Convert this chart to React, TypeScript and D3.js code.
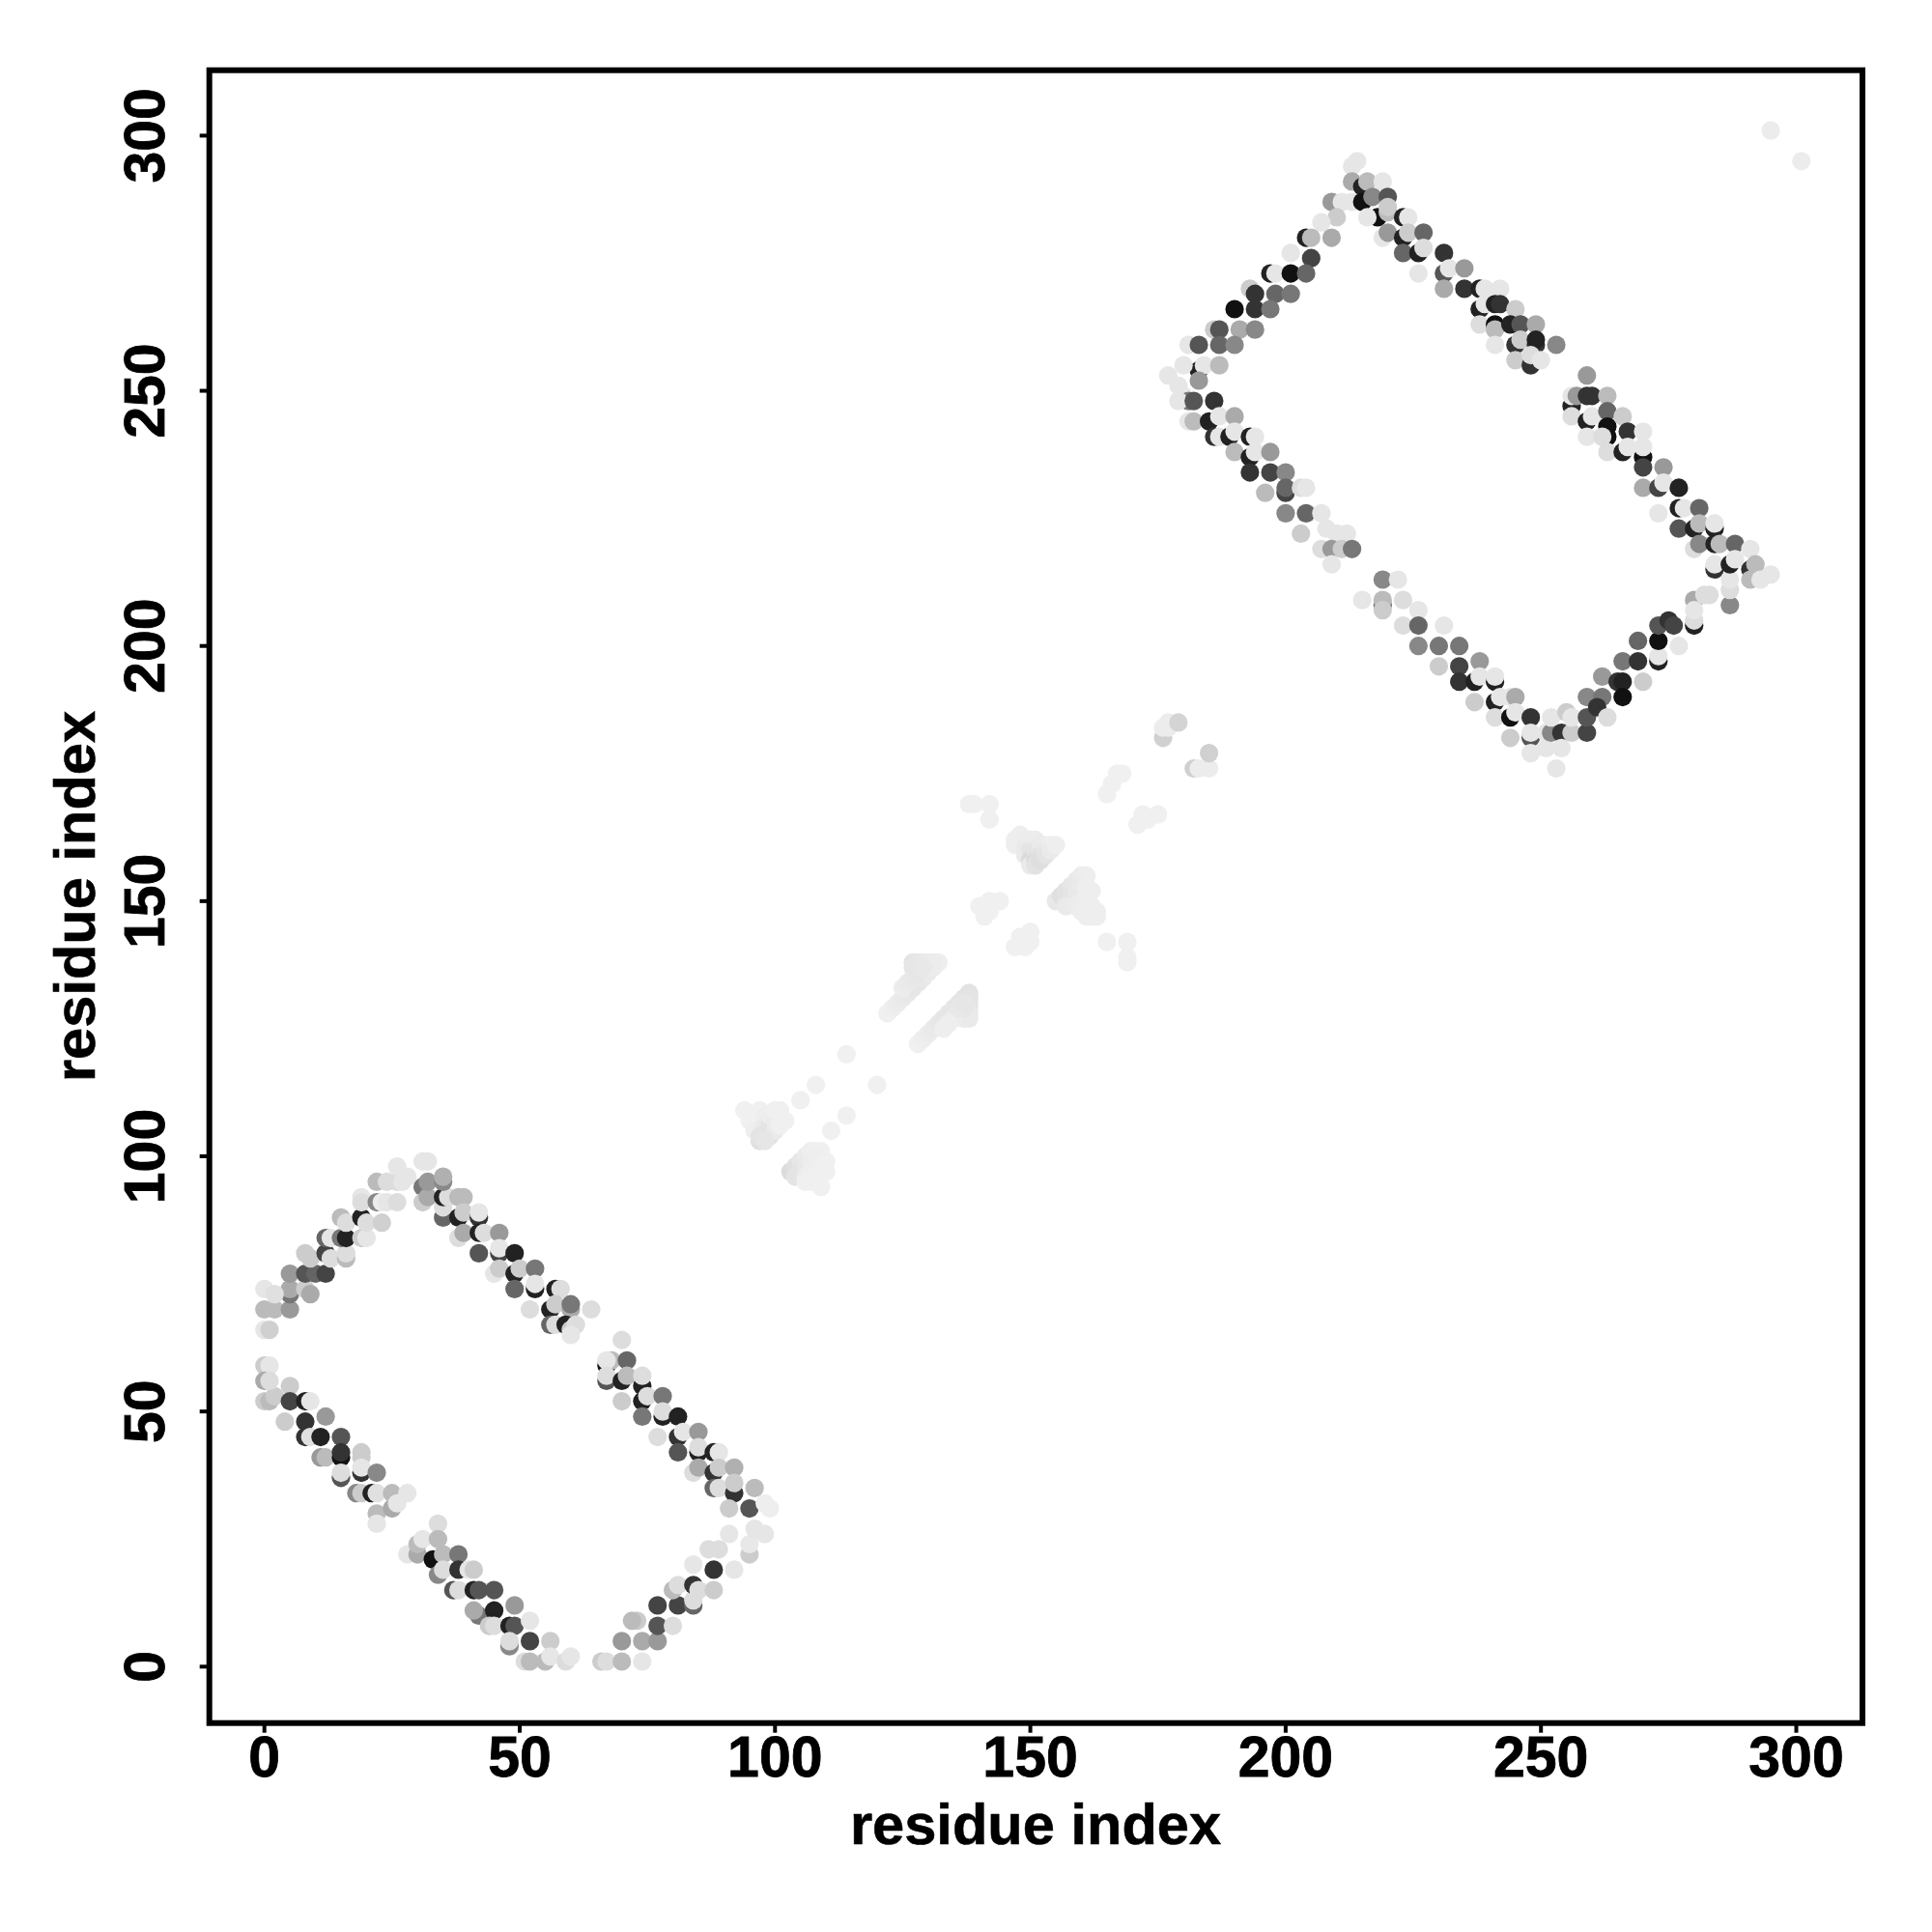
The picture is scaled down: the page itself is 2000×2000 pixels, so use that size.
import React from "react";
import * as d3 from "d3";

type Pt = [number, number, number];

const xTicks = [0, 50, 100, 150, 200, 250, 300];
const yTicks = [0, 50, 100, 150, 200, 250, 300];
const xTitle = "residue index";
const yTitle = "residue index";

// [residue i, residue j, grey level]
const lowerRising: Pt[] = [
  [0,66,230],[1,66,208],[0,70,187],[2,70,187],[5,70,153],[5,73,119],[5,74,170],[0,74,230],[2,73,224],[8,74,204],[9,73,170],
  [5,77,153],[8,77,85],[10,77,100],[12,77,68],[8,81,204],[9,80,204],[12,81,68],[13,80,221],[16,80,187],[16,81,221],
  [12,84,102],[13,84,230],[15,84,119],[16,84,34],[19,84,204],[20,84,230],[15,88,187],[16,87,221],[19,88,34],[20,87,221],[23,87,208],
  [19,92,230],[19,91,221],[22,91,136],[23,91,236],[24,91,230],[26,91,221],[22,95,187],[24,95,221],[26,95,221],[26,98,230],[27,95,230],[28,96,230],
];
const lowerUpperFalling: Pt[] = [
  [31,94,119],[31,91,204],[32,92,170],[32,95,153],[32,99,230],[31,99,230],[35,88,102],[35,90,221],[35,92,34],[36,92,221],[35,95,136],[35,96,176],[38,92,187],[39,92,187],
  [38,88,34],[39,89,204],[42,88,51],[42,89,230],[38,84,221],[39,85,170],[42,85,34],[43,85,221],[46,85,153],
  [42,81,85],[46,81,68],[46,82,230],[49,81,34],[45,77,230],[46,78,204],[49,77,34],[50,78,204],[53,78,119],[49,74,102],[53,74,34],[53,75,230],
  [57,74,34],[58,74,221],[52,70,221],[56,70,34],[57,71,204],[60,70,170],[60,71,119],[64,70,221],[56,67,102],[57,67,221],[59,67,34],[60,66,204],[61,67,221],[60,65,230],
];
const lowerRightFalling: Pt[] = [
  [70,64,221],[67,59,17],[68,60,187],[67,60,230],[71,60,102],[67,56,85],[67,57,221],[70,56,34],[71,57,187],[74,55,34],[74,57,221],
  [70,52,204],[74,52,34],[75,53,221],[78,53,119],[74,49,119],[78,49,34],[78,50,221],[81,49,34],[77,45,221],[81,45,51],[82,46,230],[85,46,153],
  [81,42,85],[85,42,34],[85,43,221],[88,42,34],[89,42,230],[84,38,221],[85,39,170],[88,38,51],[89,39,204],[92,39,176],
  [88,35,102],[89,35,221],[92,34,51],[92,36,204],[96,35,187],[91,31,204],[95,31,85],[98,32,238],[99,31,238],
];
const lowerRightRising: Pt[] = [
  [66,1,204],[67,1,221],[70,1,187],[74,1,230],[70,5,153],[74,5,170],[77,5,153],[73,9,204],[72,9,187],[77,8,85],[80,8,221],
  [77,12,68],[81,12,68],[84,12,102],[84,13,221],[80,15,187],[81,16,221],[84,16,51],[85,15,221],[88,15,204],[84,20,230],[88,19,51],[92,19,230],
  [87,23,221],[89,23,221],[95,22,204],[95,24,232],[91,26,230],[98,26,230],[96,27,230],
];
const lowerLeftFalling: Pt[] = [
  [0,52,204],[1,52,187],[2,53,204],[0,59,204],[1,59,230],[0,56,170],[1,56,221],[5,55,204],[5,52,68],[8,52,34],[9,52,230],
  [4,48,204],[8,48,51],[12,49,153],[8,45,51],[9,45,224],[11,45,34],[15,45,85],[11,41,153],[12,41,187],[15,41,17],[15,42,51],[19,41,204],[19,42,204],
  [15,37,85],[15,38,221],[19,38,51],[19,39,230],[22,38,136],[18,34,136],[19,34,204],[21,34,34],[22,34,224],[25,34,187],[28,34,230],
  [22,30,187],[22,28,230],[25,31,170],[26,32,230],
];
const lowerLeftTail: Pt[] = [
  [28,22,230],[30,22,170],[30,24,187],[31,25,230],[34,28,221],[34,25,187],[33,21,17],[35,22,187],[38,22,119],[34,18,136],[35,19,221],
  [38,19,51],[40,19,230],[41,19,204],[37,15,85],[38,15,221],[41,15,34],[42,15,85],[45,15,85],[42,10,119],[41,11,170],[45,11,34],[49,12,153],
  [44,8,204],[45,8,221],[48,8,34],[49,8,85],[52,9,230],[48,4,136],[48,5,221],[52,5,68],[56,5,204],[51,1,221],[52,1,187],[55,1,187],[56,2,230],[59,1,221],[60,2,230],
];
const upperLeftRising: Pt[] = [
  [213,294,230],[214,295,230],[213,291,170],[215,290,34],[216,291,187],[219,291,230],[209,287,153],[211,287,230],[213,287,230],
  [210,284,204],[207,283,230],[204,280,34],[205,280,187],[209,280,170],[201,277,230],[205,276,68],[197,273,34],[198,273,230],[201,273,17],[204,273,102],
  [193,270,204],[194,269,51],[198,269,102],[201,269,119],[190,266,17],[194,266,51],[197,266,119],[186,262,204],[187,262,85],[191,262,170],[194,262,136],
  [181,259,230],[183,259,85],[187,259,102],[190,259,136],[183,254,34],[184,255,230],[187,255,187],[177,253,230],[180,255,230],
  [183,252,153],[179,251,230],[180,249,230],[181,248,119],[179,248,230],[182,248,85],[186,248,51],[181,244,230],[182,244,187],[185,244,34],[187,245,230],[190,245,170],
  [186,241,51],[187,241,230],[189,241,34],[190,242,230],[193,241,34],[194,241,230],[190,238,187],[193,237,34],[194,238,230],[197,238,153],
  [193,234,51],[197,234,68],[200,234,136],[196,230,187],[200,230,68],[200,231,102],[203,231,221],[204,231,230],[200,226,136],[204,226,102],[207,226,230],
  [203,222,204],[208,223,230],[210,222,230],[212,222,230],[207,219,221],[209,219,153],[211,219,204],[213,219,119],[209,216,230],
];
const upperLowerArm: Pt[] = [
  [215,209,230],[219,213,136],[222,213,230],[219,208,102],[219,209,187],[219,207,204],[223,209,221],[226,207,230],[223,204,221],[226,204,102],[231,204,230],
  [226,200,136],[230,200,119],[234,200,119],[230,196,204],[234,196,68],[238,197,153],[234,193,51],[237,193,34],[238,194,230],[241,193,34],[241,194,230],
  [237,189,204],[241,189,34],[242,190,230],[244,190,230],[245,190,170],[241,186,221],[244,186,17],[245,187,230],[248,186,51],[244,182,204],[248,182,85],[248,183,230],
  [248,179,230],[251,183,230],[251,180,230],[252,183,136],[254,183,51],[256,183,204],[253,176,230],[254,180,230],[252,186,230],[255,187,204],[256,186,230],
];
const upperRightRising: Pt[] = [
  [259,183,68],[259,186,85],[259,190,136],[262,190,119],[261,188,51],[263,186,221],[262,194,153],[265,193,51],[266,193,34],[266,190,17],[270,193,204],
  [266,197,119],[269,197,51],[273,197,34],[273,198,230],[269,201,102],[273,201,17],[277,200,230],[273,204,85],[275,205,51],[276,204,68],[280,204,34],[280,205,221],
  [280,209,170],[280,207,230],[282,210,221],[283,210,221],[287,208,136],[287,211,221],[287,213,230],
];
const upperRightFalling: Pt[] = [
  [259,253,153],[256,247,34],[256,249,230],[257,249,153],[259,249,51],[260,249,51],[263,249,187],[256,245,221],[259,244,34],[260,245,230],[263,246,102],[263,243,17],[263,241,17],[266,245,204],
  [259,241,230],[262,241,221],[267,242,51],[270,242,230],[263,238,221],[266,238,34],[267,239,230],[270,237,17],[270,239,230],[270,235,68],[274,235,153],
  [270,231,170],[273,231,68],[274,232,230],[277,231,34],[273,226,230],[277,227,34],[278,227,230],[281,227,102],[277,223,85],[280,223,34],[281,224,187],[284,223,34],[284,224,230],
  [280,219,221],[281,220,136],[284,220,34],[285,220,187],[288,220,102],[284,215,51],[284,216,230],[287,216,34],[288,217,230],[291,219,230],[291,215,51],[292,216,187],
  [291,213,187],[293,213,230],[295,214,230],
];
const upperTopFalling: Pt[] = [
  [215,287,17],[217,288,136],[220,288,85],[218,284,17],[216,284,230],[220,285,187],[220,286,204],[223,284,34],[224,284,230],[219,280,230],[220,281,153],[223,280,34],[224,281,204],[227,281,102],
  [223,277,102],[226,277,34],[227,278,221],[226,273,230],[231,277,51],[231,273,85],[232,274,230],[235,274,153],[231,270,170],[235,270,51],[238,270,34],[239,270,230],[242,270,230],
  [238,266,34],[239,267,230],[241,267,34],[242,267,51],[245,266,204],[238,263,221],[241,263,17],[241,262,187],[244,263,34],[246,263,85],[249,263,170],
  [241,259,230],[245,259,51],[246,260,204],[249,259,51],[249,260,34],[253,259,136],[245,256,204],[248,255,51],[248,257,221],[250,256,230],
];
const isolatedPairs: Pt[] = [[295,301,236],[301,295,236]];
const centralArmsA: Pt[] = [
  [176,182,208],[176,184,236],[177,184,236],[177,185,236],[179,185,212],[182,176,208],[183,176,236],[185,176,236],[185,179,208],
  [165,171,240],[166,173,240],[167,175,240],[168,175,240],[171,165,240],[172,167,240],[173,166,240],[175,167,240],
  [138,169,240],[139,169,240],[142,169,240],[142,166,240],[165,142,240],[169,142,240],[169,139,240],[169,138,240],
  [141,147,240],[140,149,240],[142,148,240],[142,150,240],[144,150,240],[147,141,240],[149,141,240],[148,143,240],[150,142,240],[150,144,240],
];
const triangleNorth: Pt[] = [
  [147,162,238],[147,161,238],[148,163,238],[149,162,236],[149,160,234],[149,159,234],[150,162,236],[150,160,228],[150,158,218],[150,157,234],
  [151,162,236],[151,160,228],[151,158,220],[151,157,226],[152,161,234],[152,159,226],[152,158,222],[153,161,236],[153,160,232],[153,159,228],[154,161,238],[154,160,234],[155,161,238],
];
const triangleEast: Pt[] = [
  [155,150,232],[156,151,224],[157,152,226],[158,153,230],[159,154,232],[160,155,236],[161,155,238],[157,150,226],[158,151,228],[159,152,232],[160,153,234],[161,153,238],
  [157,149,234],[159,149,236],[160,150,236],[161,151,238],[162,152,238],[160,148,238],[161,148,238],[162,149,238],[161,147,238],[162,147,238],[163,147,238],[163,148,238],
];
const barrelUpper: Pt[] = [
  [122,128,240],[123,129,238],[124,130,236],[125,131,234],[126,132,232],[127,133,230],[128,134,230],[129,135,232],[130,136,234],[131,137,236],[132,138,238],
  [127,138,228],[128,138,230],[129,138,232],[130,138,234],[131,138,236],[125,133,236],[126,134,234],[127,135,232],[127,137,230],[128,137,230],[128,136,230],[129,137,232],
];
const barrelLower: Pt[] = [
  [128,122,240],[129,123,238],[130,124,236],[131,125,234],[132,126,232],[133,127,230],[134,128,230],[135,129,230],[136,130,228],[137,131,228],[138,132,226],
  [138,131,228],[138,130,228],[138,129,230],[138,128,232],[138,127,234],[137,127,234],[136,128,234],[137,129,230],[135,127,236],[134,126,238],[133,125,238],[136,129,232],[137,130,230],
];
const barrelSparse: Pt[] = [[114,120,240],[108,114,240],[105,111,240],[120,114,240],[114,108,240],[111,105,240]];
const clusterWest: Pt[] = [
  [94,109,240],[95,107,240],[96,105,238],[97,103,224],[97,109,240],[98,108,238],[98,106,234],[98,104,222],[99,104,224],[99,106,228],[99,108,238],[100,105,234],[100,107,236],[101,109,240],[102,107,240],[100,109,240],[101,106,240],[97,104,228],[98,103,230],
];
const clusterSouth: Pt[] = [
  [103,97,220],[104,98,224],[105,99,230],[106,100,234],[107,101,238],[108,101,240],[109,101,240],[104,96,228],[105,97,228],[106,98,232],[107,99,236],[108,100,238],[106,96,236],[107,97,238],[108,98,238],[109,99,238],[109,97,240],[110,97,240],[110,99,240],[106,95,240],[107,95,240],[109,94,240],[108,96,240],
];

const allPoints: Pt[] = [
  ...centralArmsA, ...triangleNorth, ...triangleEast, ...barrelUpper, ...barrelLower, ...barrelSparse, ...clusterWest, ...clusterSouth, ...isolatedPairs,
  ...lowerRising, ...lowerUpperFalling, ...lowerRightFalling, ...lowerRightRising, ...lowerLeftFalling, ...lowerLeftTail,
  ...upperLeftRising, ...upperLowerArm, ...upperRightRising, ...upperRightFalling, ...upperTopFalling,
];

const x = d3.scaleLinear().domain([0, 300]).range([273.7, 1859.5]);
const y = d3.scaleLinear().domain([0, 300]).range([1725.3, 140.4]);
const grey = d3.scaleLinear<string>().domain([0, 255]).range(["#000000", "#ffffff"]);

const frame = { left: 216.7, right: 1928, top: 72.7, bottom: 1783.7 };
const font = "'Liberation Sans', Arial, sans-serif";

export default function App() {
  return (
    <svg width={2000} height={2000} style={{ position: "absolute", left: 0, top: 0, background: "#fff" }}>
      {allPoints.map(([i, j, g], k) => (
        <circle key={k} cx={x(i)} cy={y(j)} r={9.6} fill={grey(g)} />
      ))}
      <rect x={frame.left} y={frame.top} width={frame.right - frame.left} height={frame.bottom - frame.top} fill="none" stroke="#000" strokeWidth={6} />
      {xTicks.map((t) => (
        <g key={t}>
          <line x1={x(t)} x2={x(t)} y1={frame.bottom} y2={frame.bottom + 10} stroke="#000" strokeWidth={4} />
          <text x={x(t)} y={1839} textAnchor="middle" fontFamily={font} fontWeight={700} fontSize={59} stroke="#000" strokeWidth={0.8} fill="#000">{t}</text>
        </g>
      ))}
      {yTicks.map((t) => (
        <g key={t}>
          <line x1={frame.left} x2={frame.left - 10} y1={y(t)} y2={y(t)} stroke="#000" strokeWidth={4} />
          <text transform={`translate(170,${y(t)}) rotate(-90)`} textAnchor="middle" fontFamily={font} fontWeight={700} fontSize={59} stroke="#000" strokeWidth={0.8} fill="#000">{t}</text>
        </g>
      ))}
      <text x={1072} y={1909} textAnchor="middle" fontFamily={font} fontWeight={700} fontSize={59.6} stroke="#000" strokeWidth={0.6} fill="#000">{xTitle}</text>
      <text transform="translate(98,928) rotate(-90)" textAnchor="middle" fontFamily={font} fontWeight={700} fontSize={59.6} stroke="#000" strokeWidth={0.6} fill="#000">{yTitle}</text>
    </svg>
  );
}
